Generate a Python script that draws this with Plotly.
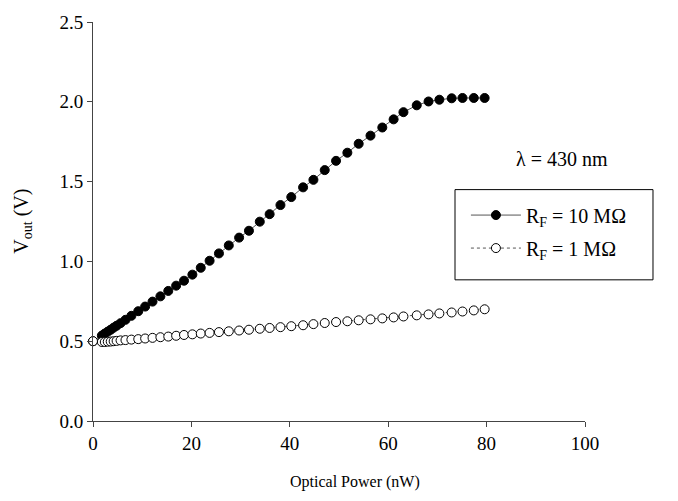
import plotly.graph_objects as go

power_nw = [0, 1.8, 2.4, 3.0, 3.6, 4.2, 4.8, 5.6, 6.6, 7.8, 9.2, 10.6, 12.1, 13.7,
            15.3, 16.9, 18.5, 20.2, 21.9, 23.7, 25.6, 27.6, 29.7, 31.7, 33.9, 35.9,
            38.1, 40.3, 42.7, 44.8, 47.1, 49.4, 51.7, 54.0, 56.4, 58.8, 61.1, 63.1,
            65.8, 68.2, 70.4, 72.9, 75.1, 77.4, 79.6]

vout_10m = [0.50, 0.535, 0.548, 0.560, 0.572, 0.585, 0.597, 0.613, 0.634, 0.659,
            0.688, 0.717, 0.748, 0.781, 0.815, 0.848, 0.879, 0.917, 0.960, 1.004,
            1.050, 1.100, 1.149, 1.192, 1.249, 1.296, 1.353, 1.403, 1.464, 1.511,
            1.572, 1.630, 1.681, 1.737, 1.788, 1.839, 1.890, 1.935, 1.978, 2.002,
            2.013, 2.022, 2.024, 2.024, 2.024]

vout_1m = [0.50, 0.495, 0.495, 0.497, 0.498, 0.500, 0.502, 0.505, 0.507, 0.510,
           0.513, 0.517, 0.521, 0.525, 0.529, 0.534, 0.539, 0.543, 0.548, 0.552,
           0.557, 0.562, 0.567, 0.572, 0.578, 0.583, 0.588, 0.594, 0.600, 0.607,
           0.614, 0.620, 0.625, 0.631, 0.637, 0.643, 0.649, 0.655, 0.662, 0.668,
           0.674, 0.680, 0.686, 0.693, 0.700]

x_ticks = [0, 20, 40, 60, 80, 100]
y_ticks = [0.0, 0.5, 1.0, 1.5, 2.0, 2.5]

FONT = "Liberation Serif, Times New Roman, serif"

fig = go.Figure()
fig.add_trace(go.Scatter(
    x=power_nw, y=vout_10m, mode="lines+markers",
    name="R<sub>F</sub> = 10 MΩ", legendgroup="a",
    line=dict(color="#555555", width=1),
    marker=dict(symbol="circle", size=9, color="black", line=dict(color="black", width=1)),
    cliponaxis=False,
))
fig.add_trace(go.Scatter(
    x=power_nw, y=vout_1m, mode="lines+markers",
    name="R<sub>F</sub> = 1 MΩ", legendgroup="b",
    line=dict(color="#555555", width=1, dash="dot"),
    marker=dict(symbol="circle", size=9, color="white", line=dict(color="black", width=1)),
    cliponaxis=False,
))

fig.update_layout(
    width=678, height=501,
    margin=dict(l=93, r=93, t=14, b=80),
    plot_bgcolor="white", paper_bgcolor="white",
    font=dict(family=FONT, size=19, color="black"),
    showlegend=True,
    legend=dict(
        x=0.758, y=0.565, xanchor="left", yanchor="top",
        borderwidth=0, bgcolor="rgba(0,0,0,0)",
        font=dict(family=FONT, size=20, color="black"),
        tracegroupgap=4, itemwidth=50,
    ),
    xaxis=dict(
        range=[0, 100], tickvals=x_ticks, showline=True, linecolor="#444444", linewidth=1,
        ticks="outside", ticklen=5, tickcolor="#444444", showgrid=False, zeroline=False,
        tickfont=dict(family=FONT, size=19),
    ),
    yaxis=dict(
        range=[0, 2.5], tickvals=y_ticks, tickformat=".1f", showline=True, linecolor="#444444",
        linewidth=1, ticks="outside", ticklen=5, tickcolor="#444444", showgrid=False, zeroline=False,
        tickfont=dict(family=FONT, size=19),
    ),
    shapes=[dict(
        type="rect", xref="paper", yref="paper",
        x0=0.7358, x1=1.1382, y0=0.3538, y1=0.5799,
        line=dict(color="black", width=1), fillcolor="rgba(0,0,0,0)", layer="below",
    )],
    annotations=[
        dict(text="λ = 430 nm", xref="paper", yref="paper", x=0.953, y=0.657,
             xanchor="center", yanchor="middle", showarrow=False,
             font=dict(family=FONT, size=20, color="black")),
        dict(text="Optical Power (nW)", xref="paper", yref="paper", x=0.533, y=-0.153,
             xanchor="center", yanchor="middle", showarrow=False,
             font=dict(family=FONT, size=16, color="black")),
        dict(text="V<sub>out</sub> (V)", xref="paper", yref="paper", x=-0.144, y=0.5,
             xanchor="center", yanchor="middle", showarrow=False, textangle=-90,
             font=dict(family=FONT, size=20, color="black")),
    ],
)

fig.write_html("out.html")
